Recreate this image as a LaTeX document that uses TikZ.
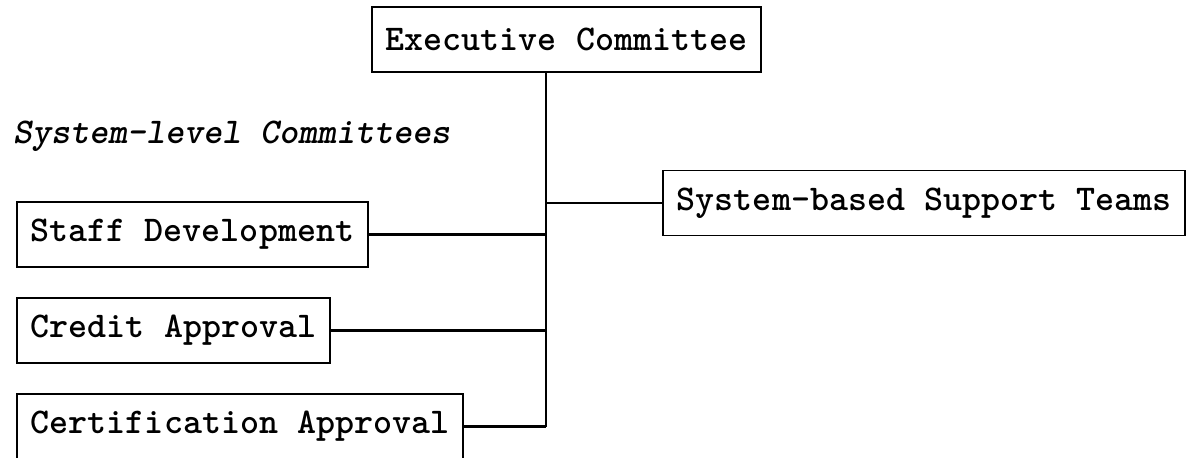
\documentclass[tikz,border=0pt]{standalone}
\usepackage{fontspec}
\tikzset{
  orgbox/.style={draw, line width=1.1pt, inner xsep=0.28cm, minimum height=1.3cm, font=\ttfamily\bfseries\fontsize{20.6}{22}\selectfont},
  orgline/.style={line width=1.3pt}
}
\begin{document}
\begin{tikzpicture}
\useasboundingbox (0,0) rectangle (23.76,9.14);

% boxes
\node[orgbox] (exec) at (11.33, 8.35) {Executive Committee};
\node[anchor=west, font=\ttfamily\bfseries\slshape\fontsize{20.6}{22}\selectfont] (level) at (0.14, 6.42) {System-level Committees};
\node[orgbox, anchor=west] (support) at (13.24, 5.08) {System-based Support Teams};
\node[orgbox, anchor=west] (staff) at (0.32, 4.45) {Staff Development};
\node[orgbox, anchor=west] (credit) at (0.32, 2.53) {Credit Approval};
\node[orgbox, anchor=west] (cert) at (0.32, 0.61) {Certification Approval};

% connectors
\coordinate (spine) at (10.92, 0.61);
\draw[orgline] (exec.south -| spine) -- (spine);
\draw[orgline] (support.west) -- (support.west -| spine);
\draw[orgline] (staff.east) -- (staff.east -| spine);
\draw[orgline] (credit.east) -- (credit.east -| spine);
\draw[orgline] (cert.east) -- (spine);
\end{tikzpicture}
\end{document}
